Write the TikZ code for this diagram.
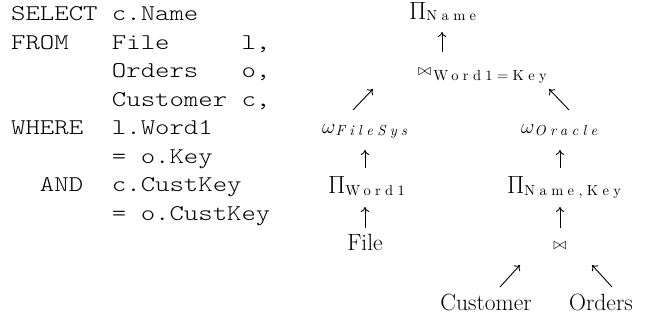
\documentclass[tikz,border=0pt]{standalone}
\usepackage{fontspec}
\newfontfamily\courierlike[FakeStretch=1.219]{lmmonolt10-regular.otf}
\newfontfamily\subfont[LetterSpace=30,ItalicFont=lmroman10-italic.otf]{lmroman10-regular.otf}
\usetikzlibrary{arrows.meta}
\newcommand\subtxt[1]{\hbox{\subfont\fontsize{14.5}{15}\selectfont #1}}
\begin{document}
\begin{tikzpicture}[x=1pt,y=-1pt,
  sql/.style={anchor=base west,inner sep=0pt,font=\courierlike\fontsize{22.5}{28}\selectfont},
  alg/.style={anchor=base west,inner sep=0pt,font=\fontsize{23.5}{28}\selectfont},
  arr/.style={-{Computer Modern Rightarrow[length=5pt,width=8.5pt]},line width=0.9pt}]
\useasboundingbox (0,0) rectangle (655,320);
% SQL query
\node[sql] (q1) at (11,21.0)  {SELECT~c.Name};
\node[sql] (q2) at (11,49.4)  {FROM~~~File~~~~~l,};
\node[sql] (q3) at (11,77.9)  {~~~~~~~Orders~~~o,};
\node[sql] (q4) at (11,106.3) {~~~~~~~Customer~c,};
\node[sql] (q5) at (11,134.8) {WHERE~~l.Word1};
\node[sql] (q6) at (11,163.2) {~~~~~~~=~o.Key};
\node[sql] (q7) at (11,191.7) {~~AND~~c.CustKey};
\node[sql] (q8) at (11,220.1) {~~~~~~~=~o.CustKey};
% plan tree
\node[alg] (pname) at (409,19.5) {$\Pi$\raisebox{-1.5pt}{\subtxt{Name}}};
\node[alg] (j1) at (418,76) {\scalebox{0.65}{$\bowtie$}\hspace{2pt}\raisebox{-5pt}{\subtxt{Word1=Key}}};
\node[alg] (wfs) at (322,134) {{\fontsize{21}{24}\selectfont$\omega$}\raisebox{-2pt}{\subtxt{\itshape FileSys}}};
\node[alg] (wor) at (521,134) {{\fontsize{21}{24}\selectfont$\omega$}\raisebox{-2pt}{\subtxt{\itshape Oracle}}};
\node[alg] (pword) at (328,194) {$\Pi$\raisebox{-1.5pt}{\subtxt{Word1}}};
\node[alg] (pnk) at (507,194) {$\Pi$\raisebox{-1.5pt}{\subtxt{Name,Key}}};
\node[alg,anchor=base] (file) at (365,251) {File};
\node[alg,anchor=base] (j2) at (560,249) {\scalebox{0.65}{$\bowtie$}};
\node[alg,anchor=base] (cust) at (486,310) {Customer};
\node[alg,anchor=base] (ord) at (601,310) {Orders};
% arrows
\draw[arr] ([shift={(24,-24)}]j1.base west) -- ([shift={(33,12.5)}]pname.base west);
\draw[arr] ([shift={(31,-24)}]wfs.base west) -- ([shift={(-45,13)}]j1.base west);
\draw[arr] ([shift={(48,-24)}]wor.base west) -- ([shift={(131,13)}]j1.base west);
\draw[arr] ([shift={(37,-26)}]pword.base west) -- ([shift={(43,16)}]wfs.base west);
\draw[arr] ([shift={(53,-26)}]pnk.base west) -- ([shift={(39,16)}]wor.base west);
\draw[arr] ([shift={(0,-23)}]file.base) -- ([shift={(37,13)}]pword.base west);
\draw[arr] ([shift={(0,-21)}]j2.base) -- ([shift={(53,13)}]pnk.base west);
\draw[arr] ([shift={(14,-23)}]cust.base) -- ([shift={(-40,16)}]j2.base);
\draw[arr] ([shift={(11,-23)}]ord.base) -- ([shift={(32,16)}]j2.base);
\end{tikzpicture}
\end{document}
